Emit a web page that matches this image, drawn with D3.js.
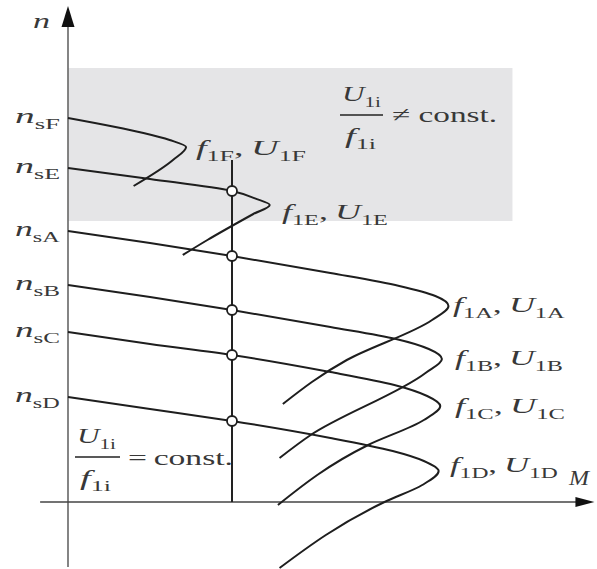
<!DOCTYPE html>
<html lang="de">
<head>
<meta charset="utf-8">
<script src="https://d3js.org/d3.v7.min.js"></script>
<style>
  body { margin: 0; background: #fff; }
  text { font-family: "Liberation Serif", "DejaVu Serif", serif; fill: #383838; }
</style>
</head>
<body>
<script>
// speed-torque curves n(M), points [M, n] (n falls along each curve)
var curveIds = ["F", "E", "A", "B", "C", "D"];
var curveF = [[0, 96], [0.46, 92.25], [0.62, 90.5], [0.72, 88.75], [0.64, 85.5], [0.40, 79]];
var curveE = [[0, 83.5], [0.5, 80.75], [1, 77.75], [1.14, 75.9], [1.23, 74.25], [1.13, 72], [0.85, 65.5], [0.70, 61.75]];
var curveA = [[0, 67.75], [0.5, 64.75], [1, 61.5], [1.6, 57.25], [2.02, 54], [2.24, 51.5], [2.32, 49], [2.22, 45.5], [1.70, 35.5], [1.31, 24.5]];
var curveB = [[0, 54.25], [0.5, 51.25], [1, 48], [1.6, 43.75], [2.0, 40.75], [2.2, 38.25], [2.28, 35.75], [2.18, 32.25], [1.48, 16.75], [1.29, 11]];
var curveC = [[0, 42.5], [0.5, 39.5], [1, 36.75], [1.6, 32.5], [1.99, 29.25], [2.19, 26.5], [2.27, 24], [2.17, 20.5], [1.83, 14.25], [1.28, -0.75]];
var curveD = [[0, 26.25], [0.5, 23.25], [1, 20.25], [1.6, 16], [1.98, 12.75], [2.17, 10.25], [2.26, 7.75], [2.16, 4.25], [1.93, 0], [1.29, -16.5]];
var curves = [curveF, curveE, curveA, curveB, curveC, curveD];

var syncSpeeds = [96, 83.5, 67.75, 54.25, 42.5, 26.25];   // n_sF ... n_sD
var loadTorque = 1;
var loadLineTop = 85.5;
var operatingSpeeds = [77.75, 61.5, 48, 36.75, 20.25];   // E, A, B, C, D
var shadeM = [0, 2.71];
var shadeN = [70.25, 108.5];
var axisM = [-0.17, 3.21];
var axisN = [-16.25, 124];

var W = 597, H = 569;
var svg = d3.select("body").append("svg")
    .attr("width", W)
    .attr("height", H);

var x = d3.scaleLinear().domain([0, 1]).range([68, 232]);
var y = d3.scaleLinear().domain([0, 100]).range([502, 102]);

// field weakening region
svg.append("rect")
    .attr("x", x(shadeM[0]))
    .attr("y", y(shadeN[1]))
    .attr("width", x(shadeM[1]) - x(shadeM[0]))
    .attr("height", y(shadeN[0]) - y(shadeN[1]))
    .attr("fill", "#e5e5e7");

// axes with arrow heads
var x0 = x(0), y0 = y(0);
var yTip = y(axisN[1]), xTip = x(axisM[1]);
svg.append("line")
    .attr("x1", x0).attr("x2", x0)
    .attr("y1", y(axisN[0])).attr("y2", yTip + 18)
    .attr("stroke", "#666").attr("stroke-width", 1.6);
svg.append("path")
    .attr("d", "M" + (x0 - 6.5) + "," + (yTip + 21) + "L" + x0 + "," + yTip + "L" + (x0 + 6.5) + "," + (yTip + 21) + "Z")
    .attr("fill", "#111");
svg.append("line")
    .attr("x1", x(axisM[0])).attr("x2", xTip - 16)
    .attr("y1", y0).attr("y2", y0)
    .attr("stroke", "#444").attr("stroke-width", 1.6);
svg.append("path")
    .attr("d", "M" + (xTip - 19) + "," + (y0 - 5) + "L" + xTip + "," + y0 + "L" + (xTip - 19) + "," + (y0 + 5) + "Z")
    .attr("fill", "#111");

// load torque line
svg.append("line")
    .attr("x1", x(loadTorque)).attr("x2", x(loadTorque))
    .attr("y1", y(loadLineTop)).attr("y2", y0)
    .attr("stroke", "#222").attr("stroke-width", 2);

var line = d3.line()
    .x(function(d) { return x(d[0]); })
    .y(function(d) { return y(d[1]); })
    .curve(d3.curveMonotoneY);

svg.selectAll("path.curve")
    .data(curves)
    .enter()
    .append("path")
    .attr("class", "curve")
    .attr("d", line)
    .attr("fill", "none")
    .attr("stroke", "#1e1e1e")
    .attr("stroke-width", 2);

svg.selectAll("circle")
    .data(operatingSpeeds)
    .enter()
    .append("circle")
    .attr("cx", x(loadTorque))
    .attr("cy", function(d) { return y(d); })
    .attr("r", 5)
    .attr("fill", "#fff")
    .attr("stroke", "#1e1e1e")
    .attr("stroke-width", 1.8);

// math-like label: parts = [text, "i"|"r"|"s"], stretched to a target width
function mathLabel(parts, left, base, width, size) {
    var t = svg.append("text").attr("font-size", size);
    var shift = 0;
    parts.forEach(function(p) {
        var ts = t.append("tspan").text(p[0]);
        var target = p[1] === "s" ? size * 0.25 : 0;
        ts.attr("dy", target - shift);
        shift = target;
        if (p[1] === "i") ts.attr("font-style", "italic");
        if (p[1] === "s") ts.attr("font-size", size * 0.68);
    });
    var b = t.node().getBBox();
    var sx = width / b.width;
    t.attr("transform", "translate(" + (left - b.x * sx) + "," + base + ") scale(" + sx + ",1)");
}

// n_s labels on the speed axis
syncSpeeds.forEach(function(n, i) {
    mathLabel([["n", "i"], ["s" + curveIds[i], "s"]], 15, y(n) + 5, 45, 22);
});

// curve labels: left, baseline, width
var curveLabelLayout = [[196, 155, 110], [282, 219, 106], [453, 312, 112], [455, 365, 108], [455, 413, 110], [450, 472, 108]];
curveIds.forEach(function(id, i) {
    var l = curveLabelLayout[i];
    mathLabel([["f", "i"], ["1" + id, "s"], [",\u2009", "r"], ["U", "i"], ["1" + id, "s"]], l[0], l[1], l[2], 22);
});

mathLabel([["n", "i"]], 33, 28, 17, 22);
mathLabel([["M", "i"]], 568, 485, 23, 22);

// U1i / f1i fractions
function fraction(left, bar, barW, relText, relLeft, relBase, relW) {
    mathLabel([["U", "i"], ["1i", "s"]], left + 2, bar - 14, 39, 22);
    svg.append("line")
        .attr("x1", left).attr("x2", left + barW)
        .attr("y1", bar).attr("y2", bar)
        .attr("stroke", "#222").attr("stroke-width", 1.6);
    mathLabel([["f", "i"], ["1i", "s"]], left + 5, bar + 28, 31, 22);
    mathLabel([[relText, "r"]], relLeft, relBase, relW, 22);
}
fraction(340, 115, 43, "\u2260 const.", 392, 122, 105);
fraction(75, 457, 45, "=\u2009const.", 128, 465, 105);
</script>
</body>
</html>
